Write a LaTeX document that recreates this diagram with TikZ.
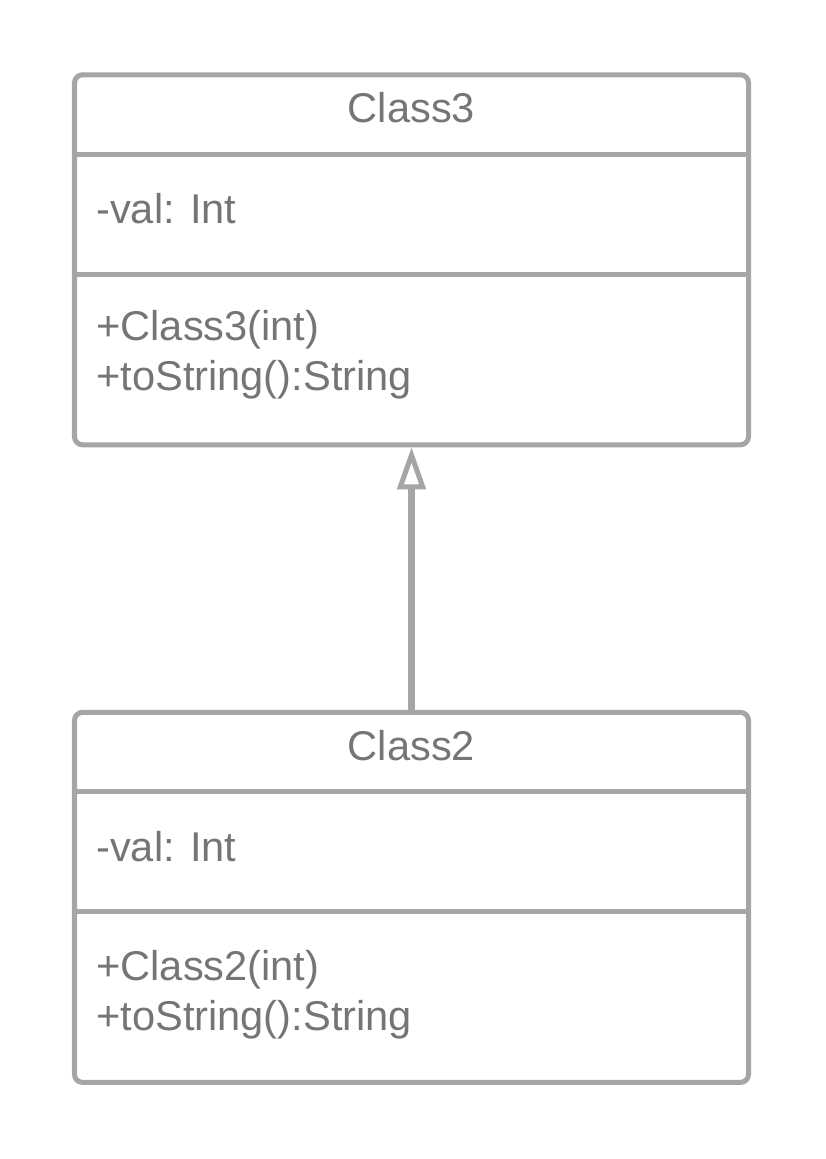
\documentclass[tikz,border=0pt]{standalone}
\usepackage{fontspec}
\setmainfont{Liberation Sans}
\usepackage{xcolor}
\usepackage{tikz}
\usetikzlibrary{arrows.meta,positioning}
\definecolor{UmlLine}{HTML}{A5A5A5}
\definecolor{UmlText}{HTML}{757575}

\begin{document}
\begin{tikzpicture}[font=\fontsize{29.6pt}{35.6pt}\selectfont, text=UmlText,
  classbox/.style={draw=UmlLine, line width=3.56pt, rounded corners=0.2cm,
    minimum width=16.85cm, minimum height=9.25cm, inner sep=0pt},
  rowline/.style={draw=UmlLine, line width=3.56pt},
  member/.style={anchor=base west, inner sep=0pt},
  classname/.style={anchor=base, inner sep=0pt}]
  \useasboundingbox (0,0) rectangle (20.625,28.975);
  % Class3
  \node[classbox] (c3) at (10.2875,22.48) {};
  \draw[rowline] (1.8625,25.1125) -- (18.7125,25.1125);
  \draw[rowline] (1.8625,22.1125) -- (18.7125,22.1125);
  \node[classname] (c3name) at (10.2875,25.9) {Class3};
  \node[member] (c3val) at (2.4,23.39) {-val: Int};
  \node[member] (c3ctor) at (2.4,20.45) {+Class3(int)};
  \node[member] (c3str) at (2.4,19.2) {+toString():String};
  % Class2
  \node[classbox] (c2) at (10.2875,6.54) {};
  \draw[rowline] (1.8625,9.1875) -- (18.7125,9.1875);
  \draw[rowline] (1.8625,6.175) -- (18.7125,6.175);
  \node[classname] (c2name) at (10.2875,9.96) {Class2};
  \node[member] (c2val) at (2.4,7.425) {-val: Int};
  \node[member] (c2ctor) at (2.4,4.47) {+Class2(int)};
  \node[member] (c2str) at (2.4,3.22) {+toString():String};
  % inheritance
  \draw[draw=UmlLine, line width=4.98pt,
    -{Triangle[open, length=1.05cm, width=0.7cm, line width=3.56pt]}] (c2.north) -- (c3.south);
\end{tikzpicture}
\end{document}
